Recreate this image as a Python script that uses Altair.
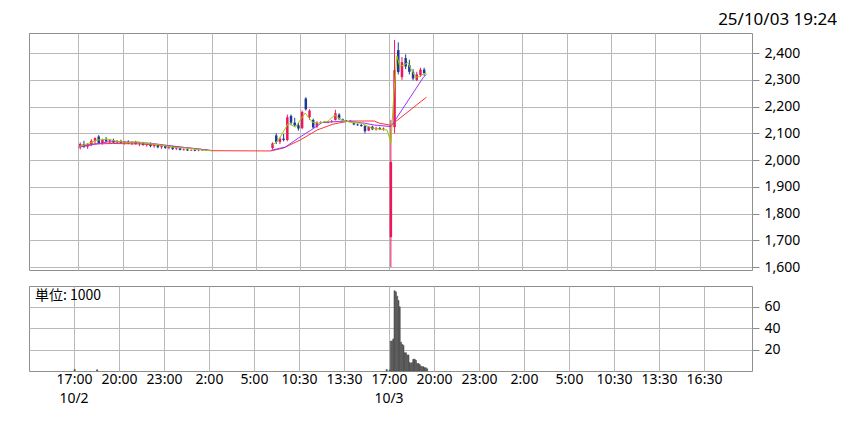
import altair as alt
import pandas as pd

# ---------------- data ----------------
# x positions are display units: 1 unit = 15 px, 17:00 10/2 = 0; candles are 15-minute slots (0.25 unit)
tick_pos = [0, 3, 6, 9, 12, 15, 18, 21, 24, 27, 30, 33, 36, 39, 42]
tick_time = ["17:00", "20:00", "23:00", "2:00", "5:00", "10:30", "13:30",
             "17:00", "20:00", "23:00", "2:00", "5:00", "10:30", "13:30", "16:30"]
date_pos = [0, 21]
date_text = ["10/2", "10/3"]
price_ticks = [1600, 1700, 1800, 1900, 2000, 2100, 2200, 2300, 2400]
vol_ticks = [20, 40, 60]
stamp = "25/10/03 19:24"
unit_label = "単位: 1000"

# session 1 (10/2 night), first slot at 0.125
a_open = [2048, 2060, 2050, 2058, 2072, 2088, 2064, 2076, 2070, 2074, 2066, 2070, 2064, 2068, 2062, 2066, 2060, 2062,
          2056, 2060, 2052, 2056, 2048, 2052, 2045, 2048, 2041, 2044, 2038, 2040, 2036, 2038, 2035, 2036, 2035]
a_high = [2066, 2072, 2064, 2078, 2085, 2093, 2080, 2086, 2078, 2080, 2074, 2076, 2072, 2074, 2070, 2072, 2066, 2068,
          2064, 2066, 2060, 2060, 2056, 2056, 2052, 2050, 2048, 2046, 2044, 2042, 2040, 2040, 2038, 2037, 2036]
a_low = [2040, 2045, 2042, 2052, 2060, 2060, 2058, 2066, 2062, 2064, 2060, 2062, 2058, 2060, 2056, 2058, 2052, 2054,
         2050, 2048, 2046, 2044, 2042, 2042, 2040, 2038, 2038, 2036, 2035, 2034, 2034, 2033, 2033, 2034, 2034]
a_close = [2060, 2050, 2058, 2072, 2082, 2064, 2076, 2070, 2074, 2066, 2070, 2064, 2068, 2062, 2066, 2060, 2062, 2056,
           2060, 2052, 2056, 2048, 2052, 2045, 2048, 2041, 2044, 2038, 2040, 2036, 2038, 2035, 2036, 2035, 2035]

# session 2 (10/3 day), first slot at 13.125
b_open = [2045, 2092, 2068, 2080, 2075, 2165, 2140, 2130, 2120, 2230, 2160, 2150, 2125, 2140, 2142, 2140,
          2143, 2150, 2170, 2152, 2148, 2147, 2138, 2133, 2131, 2128, 2110, 2125, 2115, 2120, 2116]
b_high = [2066, 2100, 2085, 2098, 2170, 2170, 2158, 2140, 2185, 2235, 2190, 2155, 2145, 2145, 2146, 2145,
          2150, 2188, 2175, 2155, 2150, 2149, 2140, 2136, 2135, 2130, 2128, 2128, 2125, 2124, 2122]
b_low = [2040, 2060, 2060, 2070, 2070, 2130, 2125, 2110, 2115, 2185, 2150, 2118, 2120, 2136, 2138, 2137,
         2140, 2148, 2150, 2145, 2145, 2144, 2130, 2128, 2125, 2100, 2108, 2112, 2110, 2112, 2110]
b_close = [2062, 2068, 2080, 2075, 2160, 2140, 2130, 2118, 2180, 2190, 2185, 2122, 2140, 2142, 2140, 2143,
           2145, 2175, 2155, 2148, 2147, 2146, 2133, 2130, 2127, 2108, 2125, 2115, 2120, 2116, 2118]

# session 3 (10/3 night), first slot at 21.125
c_open = [1712, 2123, 2411, 2310, 2381, 2355, 2330, 2300, 2318, 2338]
c_high = [2150, 2449, 2440, 2385, 2395, 2375, 2340, 2330, 2345, 2345]
c_low = [1600, 2100, 2320, 2300, 2340, 2320, 2298, 2295, 2310, 2315]
c_close = [1993, 2336, 2329, 2366, 2350, 2330, 2305, 2320, 2338, 2325]

session_start = [0.125, 13.125, 21.125]

# moving averages (short / mid / long), read as points
g1_u = [0, 0.67, 1.33, 2, 2.67, 3.33, 4, 4.67, 5.33, 6, 6.67, 7.33, 8, 8.67, 9]
g1_v = [2050, 2062, 2075, 2078, 2070, 2066, 2068, 2062, 2058, 2052, 2046, 2045, 2040, 2036, 2035]
g2_u = [13.13, 13.53, 14.2, 14.67, 15.33, 15.8, 16.2, 16.87, 17.33, 17.8, 18.47, 19.13, 19.8, 20.87, 21.13,
        21.33, 21.53, 21.73, 22.0, 22.27, 22.53, 22.8, 23.07, 23.33, 23.53]
g2_v = [2056, 2075, 2138, 2123, 2176, 2142, 2138, 2145, 2168, 2150, 2140, 2138, 2120, 2112, 2064,
        2250, 2390, 2350, 2355, 2365, 2335, 2310, 2312, 2322, 2325]
p1_u = [0, 1, 2, 3, 4, 5, 6, 7, 8, 9]
p1_v = [2048, 2058, 2068, 2068, 2066, 2062, 2055, 2048, 2042, 2036]
p2_u = [13, 14, 14.87, 15.67, 16.47, 18, 19.33, 20, 21.13, 23.33, 23.53]
p2_v = [2036, 2049, 2082, 2110, 2140, 2146, 2138, 2131, 2125, 2310, 2320]
r_u = [0, 1, 2.33, 4.33, 5.67, 7, 8.33, 9, 13, 13.87, 15, 16.13, 17.2, 18.33, 20, 20.33, 21.13, 23.53]
r_v = [2050, 2060, 2062, 2060, 2055, 2048, 2040, 2035, 2034, 2045, 2075, 2112, 2134, 2146, 2146, 2138, 2130, 2235]

# volume (x1000), 5-minute slots
vol_u = [0.0, 1.5, 20.8] + [21 + k / 12 for k in range(31)]
vol_v = [1.5, 1.2, 1.5,
         1, 28, 28, 30, 75, 74, 70, 66, 60, 27, 25, 24, 17, 17, 15, 15, 8, 7, 8, 11, 11, 10, 7, 7, 6,
         4.5, 4, 4, 3, 3, 2]

UP, DOWN = "#f0145a", "#1a3a9a"
C_SHORT, C_MID, C_LONG = "#99cc00", "#9933ff", "#ff3333"

# ---------------- tables ----------------
rows = []
for start, O, H, L, C in [(session_start[0], a_open, a_high, a_low, a_close),
                          (session_start[1], b_open, b_high, b_low, b_close),
                          (session_start[2], c_open, c_high, c_low, c_close)]:
    for i in range(len(O)):
        rows.append({"u": start + 0.25 * i, "o": O[i], "h": H[i], "l": L[i], "c": C[i],
                     "up": C[i] >= O[i]})
candles = pd.DataFrame(rows)
up_df = candles[candles["up"]].drop(columns="up")
dn_df = candles[~candles["up"]].drop(columns="up")


def ma_df(parts):
    r = []
    for seg, us, vs in parts:
        for u, v in zip(us, vs):
            r.append({"u": u, "v": v, "seg": seg})
    return pd.DataFrame(r)


short_df = ma_df([("a", g1_u, g1_v), ("b", g2_u, g2_v)])
mid_df = ma_df([("a", p1_u, p1_v), ("b", p2_u, p2_v)])
long_df = ma_df([("a", r_u, r_v)])

vol = pd.DataFrame({"u": vol_u, "v": vol_v})

# ---------------- scales / axes ----------------
XDOM = [-3, 45.2]
xscale = alt.Scale(domain=XDOM, nice=False, zero=False)
pscale = alt.Scale(domain=[1589, 2475], nice=False, zero=False)
vscale = alt.Scale(domain=[0, 79.5], nice=False, zero=True)

label_expr = "[" + ",".join("'%s'" % t for t in tick_time) + "][round(datum.value/3)]"

x_hidden = alt.Axis(values=tick_pos, labels=False, ticks=False, domain=False, title=None, grid=True)
x_shown = alt.Axis(values=tick_pos, labelExpr=label_expr, ticks=False, domain=False, title=None, grid=True,
                   labelPadding=1, labelAngle=0)
y_price = alt.Axis(orient="right", values=price_ticks, format=",.0f", title=None, grid=True,
                   tickSize=7, labelPadding=5, domain=False)
y_vol = alt.Axis(orient="right", values=vol_ticks, format="d", title=None, grid=True, tickSize=7,
                 labelPadding=5, domain=False)

X = alt.X("u:Q", scale=xscale, axis=x_hidden)


def candle_layers(df, colr):
    b = alt.Chart(df)
    wick = b.mark_rule(strokeWidth=1, color=colr).encode(
        x=X, y=alt.Y("l:Q", scale=pscale, axis=y_price), y2="h:Q")
    body = b.mark_bar(size=2.5, color=colr).encode(
        x=X, y=alt.Y("o:Q", scale=pscale, axis=y_price), y2="c:Q")
    return [wick, body]


def ma_layer(df, colr):
    return alt.Chart(df).mark_line(strokeWidth=1, color=colr).encode(
        x=X, y=alt.Y("v:Q", scale=pscale, axis=y_price), detail="seg:N", order="u:Q")


stamp_t = alt.Chart(pd.DataFrame({"t": [stamp]})).mark_text(
    align="right", baseline="middle", font="Noto Sans", fontSize=17, color="#000").encode(
    text="t:N", x=alt.value(808), y=alt.value(-13))

price = alt.layer(
    *candle_layers(up_df, UP), *candle_layers(dn_df, DOWN),
    ma_layer(long_df, C_LONG), ma_layer(mid_df, C_MID), ma_layer(short_df, C_SHORT),
    stamp_t
).properties(width=723, height=237)

VH = 85
vbars = alt.Chart(vol).transform_calculate(u2="datum.u + 1/12", z="0").mark_rect(
    color="#555555", stroke="#555555", strokeWidth=0.6).encode(
    x=alt.X("u:Q", scale=xscale, axis=x_shown), x2="u2:Q",
    y=alt.Y("v:Q", scale=vscale, axis=y_vol, stack=None), y2="z:Q")
unit_t = alt.Chart(pd.DataFrame({"t": [unit_label]})).mark_text(
    align="left", baseline="middle", font="Noto Sans CJK JP", fontSize=14, color="#000").encode(
    text="t:N", x=alt.value(6), y=alt.value(10))
date_t = alt.Chart(pd.DataFrame({"u": date_pos, "t": date_text})).mark_text(
    align="center", baseline="middle", font="Noto Sans", fontSize=14, color="#000").encode(
    x=alt.X("u:Q", scale=xscale, axis=x_shown), text="t:N", y=alt.value(VH + 28))

volume = alt.layer(vbars, unit_t, date_t).properties(width=723, height=VH)

chart = alt.vconcat(price, volume, spacing=10).properties(
    padding={"left": 20, "top": 2, "right": 5, "bottom": 5}
).configure_axis(
    labelFont="Noto Sans", labelFontSize=14, labelColor="#000000", tickColor="#8a8a8a",
    gridColor="#b9b9b9", gridWidth=1
).configure_view(stroke="#8f8f8f", strokeWidth=1)

chart.save("out.html", embed_options={"renderer": "svg", "actions": False})
